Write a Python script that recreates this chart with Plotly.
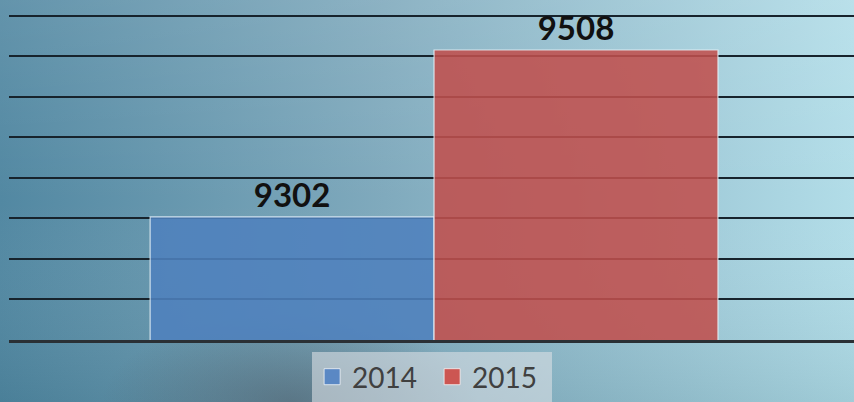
import base64
import plotly.graph_objects as go

categories = [""]
series_names = ["2014", "2015"]
values_2014 = [9302]
values_2015 = [9508]
bar_colors = ["rgba(79,129,189,0.88)", "rgba(192,80,77,0.88)"]
legend_colors = ["#5a88c4", "#cc5652"]

svg = """<svg xmlns='http://www.w3.org/2000/svg' width='854' height='402' viewBox='0 0 854 402' preserveAspectRatio='none'>
<defs>
<linearGradient id='h' x1='0' y1='0' x2='1' y2='0'>
<stop offset='0' stop-color='#5288a2'/>
<stop offset='0.45' stop-color='#80aabd'/>
<stop offset='1' stop-color='#b2dde8'/>
</linearGradient>
<linearGradient id='v' x1='0' y1='0' x2='0' y2='1'>
<stop offset='0' stop-color='#ffffff' stop-opacity='0.10'/>
<stop offset='0.5' stop-color='#ffffff' stop-opacity='0'/>
<stop offset='1' stop-color='#00303f' stop-opacity='0.10'/>
</linearGradient>
<radialGradient id='r' cx='0.34' cy='1.0' r='0.22'>
<stop offset='0' stop-color='#4e5c68' stop-opacity='0.55'/>
<stop offset='1' stop-color='#4e5c68' stop-opacity='0'/>
</radialGradient>
</defs>
<rect width='854' height='402' fill='url(#h)'/>
<rect width='854' height='402' fill='url(#v)'/>
<rect width='854' height='402' fill='url(#r)'/>
</svg>"""
bg_src = "data:image/svg+xml;base64," + base64.b64encode(svg.encode()).decode()

fig = go.Figure()
for name, vals, col in [(series_names[0], values_2014, bar_colors[0]),
                        (series_names[1], values_2015, bar_colors[1])]:
    fig.add_trace(go.Bar(
        x=categories, y=vals, name=name, showlegend=False,
        marker=dict(color=col, line=dict(color="rgba(235,245,250,0.8)", width=1.2)),
        texttemplate="%{y}", textposition="outside",
        textfont=dict(family="Lato", size=33, color="#111111", weight="bold"),
        cliponaxis=False,
    ))
# legend entries (larger square swatches)
for name, col in zip(series_names, legend_colors):
    fig.add_trace(go.Scatter(
        x=[None], y=[None], mode="markers", name=name,
        marker=dict(symbol="square", size=16, color=col,
                    line=dict(color="rgba(255,255,255,0.7)", width=1)),
    ))

fig.update_layout(
    width=854, height=402,
    margin=dict(l=0, r=0, t=0, b=0),
    paper_bgcolor="rgba(0,0,0,0)",
    plot_bgcolor="rgba(0,0,0,0)",
    barmode="group", bargap=0.328, bargroupgap=0,
    showlegend=True,
    legend=dict(orientation="h", x=0.506, xanchor="center", y=0.0, yanchor="bottom",
                bgcolor="rgba(218,224,228,0.6)", borderwidth=0,
                font=dict(family="Lato", size=28, color="#404040"),
                itemwidth=30, tracegroupgap=0, entrywidth=75, entrywidthmode="pixels"),
    images=[dict(source=bg_src, xref="paper", yref="paper", x=0, y=1,
                 sizex=1, sizey=1, sizing="stretch", layer="below",
                 xanchor="left", yanchor="top")],
    xaxis=dict(domain=[9/854, 1], range=[-0.503, 0.497], showticklabels=False,
               showgrid=False, zeroline=False, showline=True,
               linecolor="#2a3035", linewidth=3, ticks=""),
    yaxis=dict(domain=[62/402, 1], range=[9150, 9569.7], showticklabels=False,
               showgrid=True, gridcolor="#17232c", gridwidth=2,
               tick0=9150, dtick=50, zeroline=False, showline=False, ticks=""),
)

fig.write_html("out.html", config={"displayModeBar": False},
               post_script="document.body.style.margin='0';document.body.style.overflow='hidden';")
